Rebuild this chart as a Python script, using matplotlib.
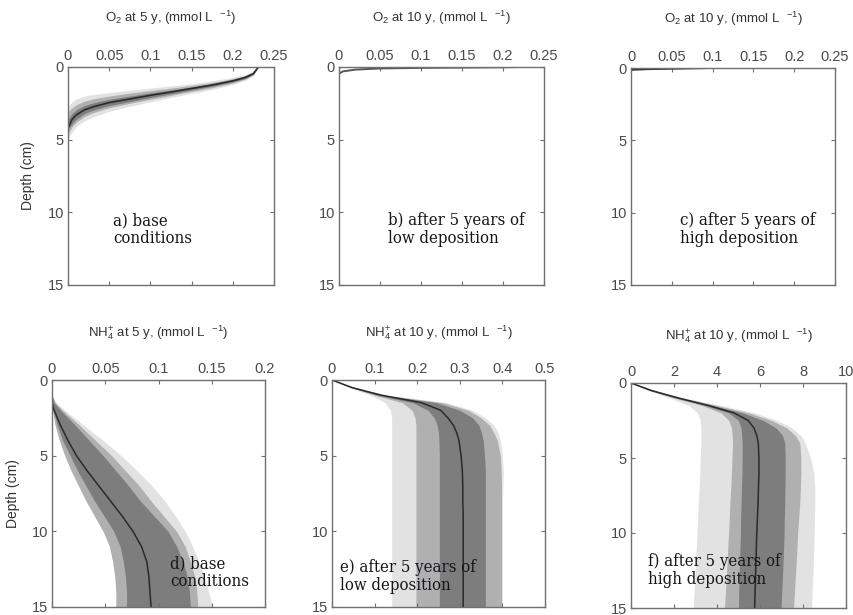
import matplotlib
matplotlib.use("Agg")
import matplotlib.pyplot as plt

# ---------------- data ----------------
# Panel a: O2 at 5 y (concentration grid, depth of band edges)
a_conc = [0, 0.005, 0.01, 0.02, 0.03, 0.05, 0.075, 0.1, 0.125, 0.15, 0.175, 0.2, 0.215, 0.225, 0.231]
a_med = [4.2, 3.6, 3.3, 2.95, 2.75, 2.45, 2.2, 1.95, 1.72, 1.48, 1.24, 0.95, 0.72, 0.45, 0.0]
a_light_lo = [2.7, 2.4, 2.2, 2.0, 1.9, 1.75, 1.6, 1.45, 1.3, 1.15, 0.95, 0.72, 0.52, 0.3, 0.0]
a_light_hi = [4.9, 4.5, 4.1, 3.7, 3.45, 3.05, 2.7, 2.4, 2.1, 1.82, 1.55, 1.2, 0.92, 0.6, 0.0]
a_mid_lo = [3.1, 2.8, 2.6, 2.35, 2.2, 2.0, 1.8, 1.62, 1.45, 1.27, 1.06, 0.8, 0.6, 0.36, 0.0]
a_mid_hi = [4.6, 4.1, 3.8, 3.4, 3.15, 2.8, 2.5, 2.22, 1.95, 1.68, 1.42, 1.1, 0.84, 0.54, 0.0]
a_dark_lo = [3.6, 3.2, 2.95, 2.65, 2.48, 2.22, 2.0, 1.78, 1.58, 1.37, 1.15, 0.88, 0.66, 0.4, 0.0]
a_dark_hi = [4.3, 3.9, 3.6, 3.2, 2.98, 2.65, 2.38, 2.1, 1.85, 1.58, 1.33, 1.03, 0.79, 0.5, 0.0]

# Panel b: O2 at 10 y, low deposition
b_conc = [0, 0.005, 0.02, 0.05, 0.1, 0.15, 0.2, 0.22]
b_depth = [0.45, 0.3, 0.18, 0.1, 0.06, 0.04, 0.02, 0.0]

# Panel c: O2 at 10 y, high deposition
c_conc = [0, 0.02, 0.05, 0.09]
c_depth = [0.12, 0.07, 0.04, 0.0]

# Panel d: NH4+ at 5 y (depth grid, concentration of band edges)
d_depth = [0, 1, 1.5, 2, 3, 4, 5, 6, 7, 8, 9, 10, 11, 12, 13, 14, 15]
d_med = [0, 0, 0, 0.002, 0.008, 0.015, 0.023, 0.033, 0.044, 0.055, 0.066, 0.076, 0.084, 0.089, 0.091, 0.092, 0.093]
d_dark_lo = [0, 0, 0, 0.001, 0.005, 0.010, 0.017, 0.024, 0.032, 0.040, 0.049, 0.058, 0.064, 0.067, 0.069, 0.070, 0.070]
d_dark_hi = [0, 0, 0.002, 0.008, 0.022, 0.035, 0.048, 0.060, 0.072, 0.083, 0.096, 0.109, 0.117, 0.123, 0.127, 0.129, 0.130]
d_mid_lo = [0, 0, 0, 0.0005, 0.003, 0.007, 0.012, 0.018, 0.025, 0.032, 0.040, 0.048, 0.054, 0.057, 0.059, 0.060, 0.060]
d_mid_hi = [0, 0, 0.003, 0.010, 0.026, 0.041, 0.056, 0.069, 0.082, 0.093, 0.105, 0.117, 0.125, 0.130, 0.134, 0.136, 0.137]
d_light_lo = [0, 0, 0, 0.0005, 0.003, 0.007, 0.012, 0.018, 0.025, 0.032, 0.040, 0.048, 0.054, 0.057, 0.059, 0.060, 0.060]
d_light_hi = [0, 0, 0.004, 0.012, 0.030, 0.048, 0.065, 0.080, 0.094, 0.106, 0.116, 0.125, 0.132, 0.138, 0.143, 0.147, 0.151]

# Panels e, f: NH4+ at 10 y
ef_depth = [0, 0.5, 1, 1.5, 2, 2.5, 3, 3.5, 4, 5, 6, 7, 8, 9, 10, 11, 12, 13, 14, 15]
e_med = [0, 0.047, 0.115, 0.21, 0.255, 0.272, 0.285, 0.293, 0.298, 0.303, 0.306, 0.307, 0.307, 0.308, 0.308, 0.308, 0.308, 0.308, 0.308, 0.308]
e_light_lo = [0, 0.04, 0.09, 0.125, 0.137, 0.140, 0.140, 0.140, 0.140, 0.140, 0.140, 0.140, 0.140, 0.140, 0.140, 0.140, 0.140, 0.140, 0.140, 0.140]
e_mid_lo = [0, 0.044, 0.10, 0.165, 0.188, 0.195, 0.197, 0.197, 0.197, 0.197, 0.197, 0.197, 0.197, 0.197, 0.197, 0.197, 0.197, 0.197, 0.197, 0.197]
e_dark_lo = [0, 0.046, 0.105, 0.19, 0.225, 0.240, 0.247, 0.250, 0.251, 0.252, 0.252, 0.252, 0.252, 0.252, 0.252, 0.252, 0.252, 0.252, 0.252, 0.252]
e_dark_hi = [0, 0.05, 0.12, 0.245, 0.30, 0.33, 0.345, 0.351, 0.355, 0.358, 0.36, 0.36, 0.36, 0.36, 0.36, 0.36, 0.36, 0.36, 0.36, 0.36]
e_mid_hi = [0, 0.052, 0.125, 0.26, 0.32, 0.35, 0.37, 0.38, 0.388, 0.395, 0.397, 0.398, 0.398, 0.398, 0.398, 0.398, 0.398, 0.398, 0.398, 0.398]
e_light_hi = [0, 0.054, 0.13, 0.27, 0.33, 0.36, 0.38, 0.39, 0.395, 0.40, 0.402, 0.401, 0.40, 0.40, 0.40, 0.40, 0.40, 0.40, 0.40, 0.40]

f_med = [0, 0.95, 2.2, 3.6, 4.8, 5.45, 5.72, 5.85, 5.92, 5.95, 5.95, 5.93, 5.91, 5.88, 5.85, 5.83, 5.81, 5.79, 5.77, 5.75]
f_light_lo = [0, 0.8, 1.8, 2.7, 3.1, 3.22, 3.25, 3.25, 3.25, 3.22, 3.2, 3.17, 3.13, 3.1, 3.07, 3.04, 3.0, 2.97, 2.93, 2.9]
f_mid_lo = [0, 0.85, 2.0, 3.3, 4.2, 4.55, 4.68, 4.71, 4.72, 4.7, 4.67, 4.64, 4.6, 4.57, 4.54, 4.5, 4.47, 4.43, 4.39, 4.35]
f_dark_lo = [0, 0.9, 2.1, 3.45, 4.55, 5.0, 5.12, 5.15, 5.17, 5.17, 5.16, 5.14, 5.12, 5.1, 5.09, 5.07, 5.05, 5.03, 5.01, 5.0]
f_dark_hi = [0, 1.0, 2.3, 3.8, 5.2, 6.15, 6.75, 7.05, 7.15, 7.17, 7.17, 7.16, 7.15, 7.13, 7.12, 7.1, 7.07, 7.04, 7.01, 6.98]
f_mid_hi = [0, 1.05, 2.4, 4.0, 5.5, 6.55, 7.25, 7.65, 7.85, 7.9, 7.9, 7.88, 7.85, 7.8, 7.75, 7.72, 7.68, 7.64, 7.6, 7.56]
f_light_hi = [0, 1.1, 2.5, 4.2, 5.8, 6.8, 7.5, 7.9, 8.1, 8.35, 8.5, 8.55, 8.55, 8.53, 8.52, 8.5, 8.48, 8.45, 8.42, 8.4]

# tick labels
o2_ticks = [0, 0.05, 0.1, 0.15, 0.2, 0.25]
o2_labels = ["0", "0.05", "0.1", "0.15", "0.2", "0.25"]
d_ticks = [0, 0.05, 0.1, 0.15, 0.2]
d_labels = ["0", "0.05", "0.1", "0.15", "0.2"]
e_ticks = [0, 0.1, 0.2, 0.3, 0.4, 0.5]
e_labels = ["0", "0.1", "0.2", "0.3", "0.4", "0.5"]
f_ticks = [0, 2, 4, 6, 8, 10]
f_labels = ["0", "2", "4", "6", "8", "10"]
depth_ticks = [0, 5, 10, 15]
depth_labels = ["0", "5", "10", "15"]

titles = [r"O$_2$ at 5 y, (mmol L  $^{-1}$)",
          r"O$_2$ at 10 y, (mmol L  $^{-1}$)",
          r"O$_2$ at 10 y, (mmol L  $^{-1}$)",
          r"NH$_4^{+}$ at 5 y, (mmol L  $^{-1}$)",
          r"NH$_4^{+}$ at 10 y, (mmol L  $^{-1}$)",
          r"NH$_4^{+}$ at 10 y, (mmol L  $^{-1}$)"]
notes = ["a) base\nconditions",
         "b) after 5 years of\nlow deposition",
         "c) after 5 years of\nhigh deposition",
         "d) base\nconditions",
         "e) after 5 years of\nlow deposition",
         "f) after 5 years of\nhigh deposition"]

# ---------------- style ----------------
plt.rcParams['font.family'] = ['Liberation Sans', 'DejaVu Sans']
plt.rcParams['mathtext.fontset'] = 'custom'
plt.rcParams['mathtext.rm'] = 'Liberation Sans'
plt.rcParams['mathtext.it'] = 'Liberation Sans'
LIGHT = '#e2e2e2'
MID = '#b0b0b0'
DARK = '#7d7d7d'
LINE = '#2a2a2a'
TICKC = '#4a4a4a'
SPINE = '#707070'

W, H = 854, 615
fig = plt.figure(figsize=(W / 100, H / 100), dpi=100)


def px_axes(l, t, r, b):
    return fig.add_axes([l / W, 1 - b / H, (r - l) / W, (b - t) / H])


boxes = [(68, 67, 274, 285), (339, 67, 544, 285), (631, 68, 835, 285),
         (52, 380, 265, 607), (332, 380, 545, 607), (631, 383, 846, 608)]
axes = [px_axes(*bx) for bx in boxes]

xt = [(o2_ticks, o2_labels, 0.25), (o2_ticks, o2_labels, 0.25), (o2_ticks, o2_labels, 0.25),
      (d_ticks, d_labels, 0.2), (e_ticks, e_labels, 0.5), (f_ticks, f_labels, 10)]

for i, ax in enumerate(axes):
    ticks, labels, xmax = xt[i]
    ax.set_xlim(0, xmax)
    ax.set_ylim(15, 0)
    ax.xaxis.tick_top()
    ax.set_xticks(ticks)
    ax.set_xticklabels(labels)
    ax.set_yticks(depth_ticks)
    ax.set_yticklabels(depth_labels)
    ax.tick_params(axis='both', which='both', direction='in', length=3, width=0.8,
                   top=True, bottom=True, left=True, right=True,
                   labeltop=True, labelbottom=False, labelleft=True, labelright=False,
                   color=SPINE, labelcolor=TICKC, labelsize=10.5, pad=3)
    for s in ax.spines.values():
        s.set_color(SPINE)
        s.set_linewidth(1.0)
    top_off = 1.225 if i < 3 else 1.21
    ax.text(0.5, top_off, titles[i], transform=ax.transAxes, ha='center', va='center',
            fontsize=9.5, color='#333333')

# Panel a
ax = axes[0]
ax.fill_between(a_conc, a_light_lo, a_light_hi, color=LIGHT, lw=0)
ax.fill_between(a_conc, a_mid_lo, a_mid_hi, color=MID, lw=0)
ax.fill_between(a_conc, a_dark_lo, a_dark_hi, color=DARK, lw=0)
ax.plot(a_conc, a_med, color=LINE, lw=1.2)

# Panel b
axes[1].plot(b_conc, b_depth, color='#555555', lw=1.4)

# Panel c
axes[2].plot(c_conc, c_depth, color='#333333', lw=1.6)

# Panel d
ax = axes[3]
ax.fill_betweenx(d_depth, d_light_lo, d_light_hi, color=LIGHT, lw=0)
ax.fill_betweenx(d_depth, d_mid_lo, d_mid_hi, color=MID, lw=0)
ax.fill_betweenx(d_depth, d_dark_lo, d_dark_hi, color=DARK, lw=0)
ax.plot(d_med, d_depth, color=LINE, lw=1.1)

# Panel e
ax = axes[4]
ax.fill_betweenx(ef_depth, e_light_lo, e_light_hi, color=LIGHT, lw=0)
ax.fill_betweenx(ef_depth, e_mid_lo, e_mid_hi, color=MID, lw=0)
ax.fill_betweenx(ef_depth, e_dark_lo, e_dark_hi, color=DARK, lw=0)
ax.plot(e_med, ef_depth, color=LINE, lw=1.1)

# Panel f
ax = axes[5]
ax.fill_betweenx(ef_depth, f_light_lo, f_light_hi, color=LIGHT, lw=0)
ax.fill_betweenx(ef_depth, f_mid_lo, f_mid_hi, color=MID, lw=0)
ax.fill_betweenx(ef_depth, f_dark_lo, f_dark_hi, color=DARK, lw=0)
ax.plot(f_med, ef_depth, color=LINE, lw=1.1)

# y labels
for ax, (lx) in ((axes[0], -0.16), (axes[3], -0.15)):
    ax.set_ylabel("Depth (cm)", fontsize=10, color='#333333')
    ax.yaxis.set_label_coords(lx, 0.5)

# annotations
note_pos = [(113, 212), (388, 212), (680, 212), (170, 555), (340, 559), (648, 553)]
for (x, y), txt in zip(note_pos, notes):
    fig.text(x / W, 1 - y / H, txt, ha='left', va='top', fontsize=12,
             family='DejaVu Serif', stretch='condensed', color='#15151c',
             linespacing=1.05)

fig.savefig("out.png", dpi=100)
